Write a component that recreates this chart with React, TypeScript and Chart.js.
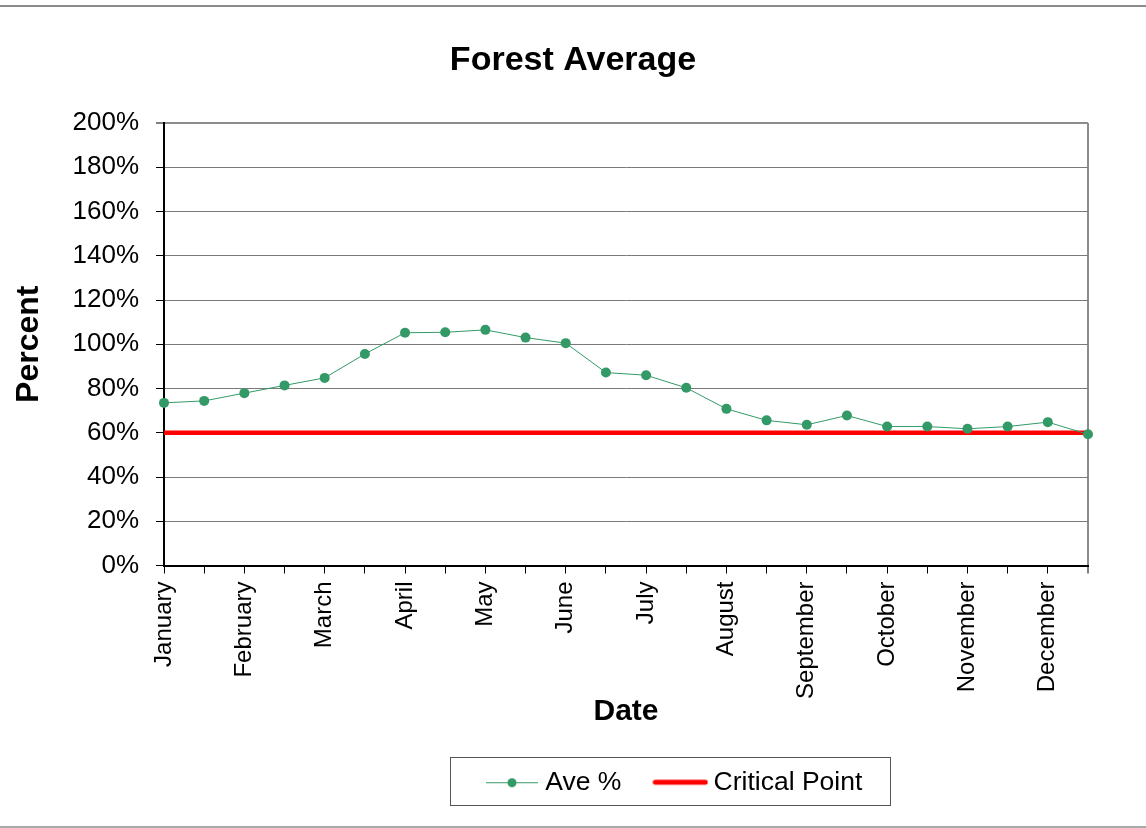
import React, { useEffect, useRef } from 'react';
import { Chart, registerables } from 'chart.js';

Chart.register(...registerables);

const FONT = "'Liberation Sans', Arial, Helvetica, sans-serif";

const MONTHS = ['January', 'February', 'March', 'April', 'May', 'June', 'July', 'August', 'September', 'October', 'November', 'December'];
// two readings per month; only the first of each month carries a label
const PERIOD_LABELS = MONTHS.flatMap((m) => [m, '']);

const AVE_PERCENT = [73.5, 74.4, 77.9, 81.4, 84.8, 95.6, 105.2, 105.4, 106.5, 103.0, 100.5, 87.2,
  86.0, 80.3, 70.8, 65.6, 63.6, 67.8, 62.8, 62.8, 61.8, 62.8, 64.8, 59.3];
const CRITICAL_POINT = [60, 60, 60, 60, 60, 60, 60, 60, 60, 60, 60, 60,
  60, 60, 60, 60, 60, 60, 60, 60, 60, 60, 60, 60];

const Y_MIN = 0;
const Y_MAX = 200;
const Y_STEP = 20;

const GREEN = '#339966';
const RED = '#ff0000';

function makeAveMarker(): HTMLCanvasElement {
  const c = document.createElement('canvas');
  c.width = 52; c.height = 12;
  const g = c.getContext('2d')!;
  g.strokeStyle = GREEN; g.lineWidth = 1;
  g.beginPath(); g.moveTo(0, 6.5); g.lineTo(52, 6.5); g.stroke();
  g.fillStyle = GREEN;
  g.beginPath(); g.arc(26, 6.5, 4.5, 0, Math.PI * 2); g.fill();
  return c;
}

function makeCriticalMarker(): HTMLCanvasElement {
  const c = document.createElement('canvas');
  c.width = 56; c.height = 8;
  const g = c.getContext('2d')!;
  g.strokeStyle = RED; g.lineWidth = 5; g.lineCap = 'round';
  g.beginPath(); g.moveTo(3, 4); g.lineTo(53, 4); g.stroke();
  return c;
}

const legendPlacement = {
  id: 'legendPlacement',
  afterLayout(chart: any) {
    const lg = chart.legend;
    if (lg) {
      lg.left = 453;
      lg.top = 730;
    }
    const tb = chart.titleBlock;
    if (tb) {
      tb.left = 0;
      tb.right = chart.width;
      tb.width = chart.width;
    }
  },
  afterDraw(chart: any) {
    const lg = chart.legend;
    if (!lg || !lg.legendHitBoxes || !lg.legendHitBoxes.length) return;
    const hb = lg.legendHitBoxes;
    const first = hb[0];
    const last = hb[hb.length - 1];
    const cy = first.top + first.height / 2;
    const ctx = chart.ctx;
    ctx.save();
    ctx.strokeStyle = '#555';
    ctx.lineWidth = 1;
    const x0 = Math.round(first.left - 42) + 0.5;
    const x1 = Math.round(last.left + last.width + 28) + 0.5;
    const y0 = Math.round(cy - 25) + 0.5;
    const y1 = Math.round(cy + 23) + 0.5;
    ctx.strokeRect(x0, y0, x1 - x0, y1 - y0);
    ctx.restore();
  },
};

export default function App() {
  const ref = useRef<HTMLCanvasElement | null>(null);

  useEffect(() => {
    if (!ref.current) return;
    const markers = [makeAveMarker(), makeCriticalMarker()];
    const lastIndex = PERIOD_LABELS.length - 1;
    const chart = new Chart(ref.current, {
      type: 'line',
      data: {
        labels: PERIOD_LABELS,
        datasets: [
          {
            label: 'Ave %',
            data: AVE_PERCENT,
            borderColor: GREEN,
            backgroundColor: GREEN,
            borderWidth: 1,
            pointRadius: 5,
            pointHoverRadius: 5,
            pointBackgroundColor: GREEN,
            pointBorderWidth: 0,
            tension: 0,
            clip: false as any,
          },
          {
            label: 'Critical Point',
            data: CRITICAL_POINT,
            borderColor: RED,
            backgroundColor: RED,
            borderWidth: 4.5,
            pointRadius: 0,
            pointHoverRadius: 0,
            tension: 0,
          },
        ],
      },
      options: {
        responsive: false,
        animation: false,
        devicePixelRatio: 1,
        layout: { padding: { left: 0, right: 58, top: 0, bottom: 0 } },
        plugins: {
          tooltip: { enabled: false },
          title: {
            display: true,
            text: 'Forest Average',
            color: '#000',
            font: { family: FONT, size: 34, weight: 'bold', lineHeight: 1.2 },
            padding: { top: 40.6, bottom: 41.6 },
          },
          legend: {
            display: true,
            position: 'bottom',
            align: 'start',
            labels: {
              color: '#000',
              font: { family: FONT, size: 26.5 },
              usePointStyle: true,
              pointStyleWidth: 40,
              boxHeight: 26,
              padding: 39,
              generateLabels: (ch: any) =>
                ch.data.datasets.map((ds: any, i: number) => ({
                  text: ds.label,
                  datasetIndex: i,
                  hidden: false,
                  pointStyle: markers[i],
                  fillStyle: ds.borderColor,
                  strokeStyle: ds.borderColor,
                  lineWidth: 0,
                  fontColor: '#000',
                })),
            },
          },
        },
        scales: {
          x: {
            type: 'category',
            offset: false,
            afterFit: (s: any) => { s.height = 187; },
            grid: {
              display: true,
              drawOnChartArea: true,
              drawTicks: true,
              tickLength: 8,
              color: (c: any) => (c.index === lastIndex ? '#8c8c8c' : 'rgba(0,0,0,0)'),
              lineWidth: (c: any) => (c.index === lastIndex ? 2 : 1),
              tickColor: '#000',
              tickWidth: 1,
            },
            border: { display: true, color: '#000', width: 2 },
            ticks: {
              autoSkip: false,
              minRotation: 90,
              maxRotation: 90,
              color: '#000',
              padding: 8,
              font: { family: FONT, size: 24 },
            },
            title: {
              display: true,
              text: 'Date',
              color: '#000',
              font: { family: FONT, size: 30, weight: 'bold', lineHeight: 0.8 },
              padding: { top: 0, bottom: 29 },
            },
          },
          y: {
            type: 'linear',
            min: Y_MIN,
            max: Y_MAX,
            afterFit: (s: any) => { s.width = 164; },
            grid: {
              display: true,
              drawTicks: true,
              tickLength: 8,
              color: (c: any) => (c.tick && c.tick.value === Y_MAX ? '#8c8c8c' : '#7a7a7a'),
              lineWidth: (c: any) => (c.tick && c.tick.value === Y_MAX ? 2 : 1),
              tickColor: '#000',
              tickWidth: 1,
            },
            border: { display: true, color: '#000', width: 2 },
            ticks: {
              stepSize: Y_STEP,
              color: '#000',
              padding: 17,
              font: { family: FONT, size: 26 },
              callback: (v: any) => `${v}%`,
            },
            title: {
              display: true,
              text: 'Percent',
              color: '#000',
              font: { family: FONT, size: 32, weight: 'bold', lineHeight: 1.2 },
              padding: { top: 10, bottom: 0 },
            },
          },
        },
      },
      plugins: [legendPlacement],
    } as any);
    return () => chart.destroy();
  }, []);

  return (
    <div style={{ position: 'fixed', left: 0, top: 0, width: 1146, height: 828, background: '#fff', overflow: 'hidden' }}>
      <div style={{ position: 'absolute', left: 0, top: 5, width: 1146, height: 2, background: '#8c8c8c' }} />
      <div style={{ position: 'absolute', left: 0, top: 826, width: 1146, height: 2, background: '#aaaaaa' }} />
      <canvas ref={ref} width={1146} height={828} style={{ position: 'absolute', left: 0, top: 0, width: 1146, height: 828 }} />
    </div>
  );
}
